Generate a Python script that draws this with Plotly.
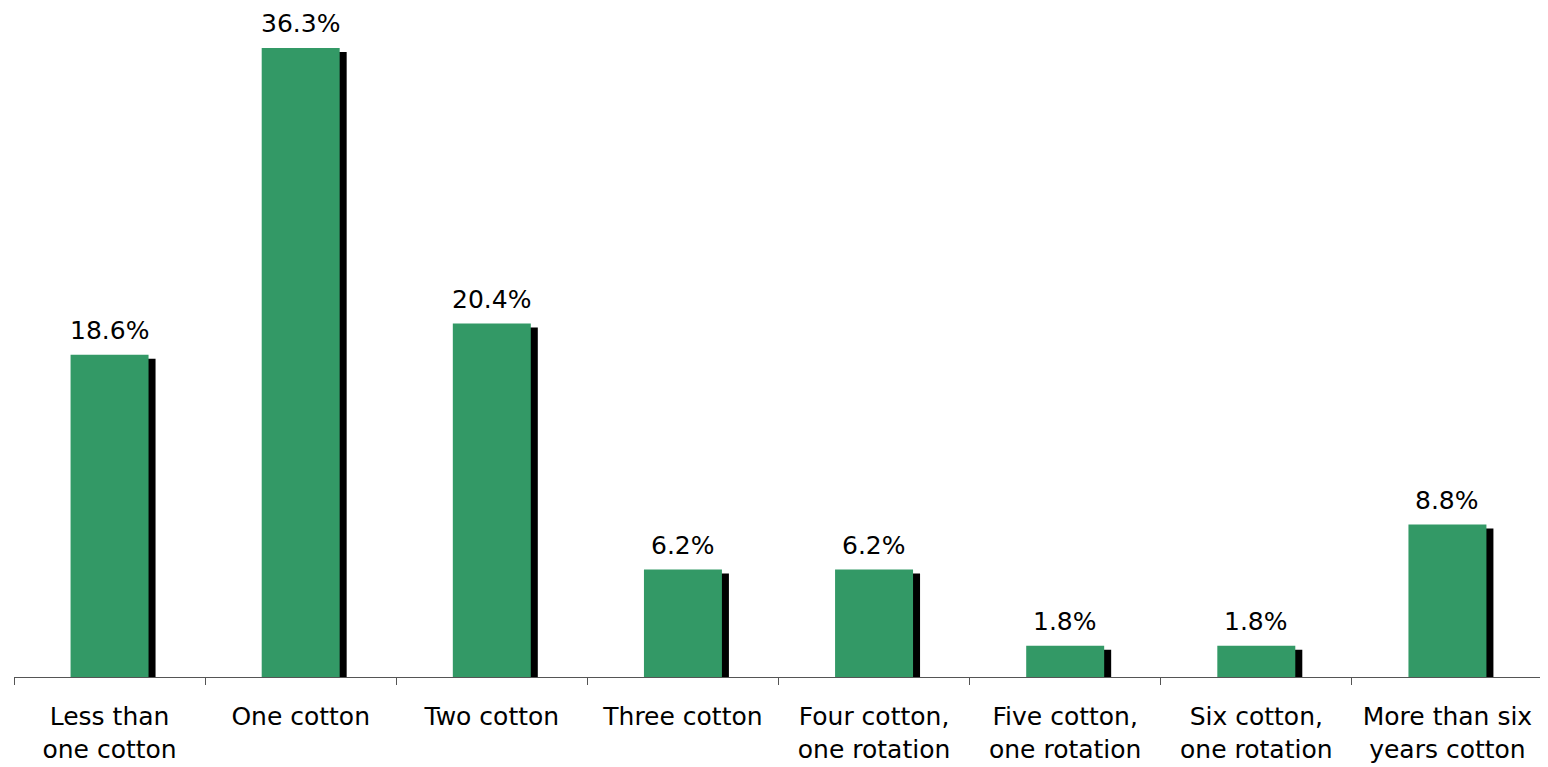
import plotly.graph_objs as go

categories = [
    'Less than<br>one cotton',
    'One cotton',
    'Two cotton',
    'Three cotton',
    'Four cotton,<br>one rotation',
    'Five cotton,<br>one rotation',
    'Six cotton,<br>one rotation',
    'More than six<br>years cotton',
]
values = [18.6, 36.3, 20.4, 6.2, 6.2, 1.8, 1.8, 8.8]
labels = ['18.6%', '36.3%', '20.4%', '6.2%', '6.2%', '1.8%', '1.8%', '8.8%']

bar_w = 0.408
shadow_dx = 0.0366   # ~7px to the right
shadow_dy = 0.23     # ~4px lower
font = 'DejaVu Sans'

fig = go.Figure()
# black drop shadow behind each bar
fig.add_trace(go.Bar(
    x=categories,
    y=[v - shadow_dy for v in values],
    width=bar_w,
    offset=-bar_w / 2 + shadow_dx,
    marker=dict(color='#000000', line=dict(width=0)),
    hoverinfo='skip',
))
fig.add_trace(go.Bar(
    x=categories,
    y=values,
    width=bar_w,
    offset=-bar_w / 2,
    marker=dict(color='#339966', line=dict(width=0)),
))

for c, v, t in zip(categories, values, labels):
    fig.add_annotation(
        x=c, y=v, text=t, showarrow=False,
        yanchor='bottom', yshift=8,
        font=dict(family=font, size=25, color='#000000'),
    )

# the page body has an 8px margin, so the figure is 8px smaller and margins shifted
fig.update_layout(
    barmode='overlay',
    showlegend=False,
    width=1540,
    height=759,
    margin=dict(l=6, r=5, t=2, b=90, autoexpand=False),
    paper_bgcolor='white',
    plot_bgcolor='white',
    font=dict(family=font, size=25, color='#000000'),
    xaxis=dict(
        automargin=False,
        showline=True,
        linecolor='#555555',
        linewidth=1,
        ticks='outside',
        tickson='boundaries',
        ticklen=7,
        tickcolor='#555555',
        showgrid=False,
        ticklabelstandoff=17,
        tickfont=dict(family=font, size=25, color='#000000'),
    ),
    yaxis=dict(
        range=[0, 38.5],
        visible=False,
        showgrid=False,
        zeroline=False,
    ),
)

fig.write_html('out.html')
